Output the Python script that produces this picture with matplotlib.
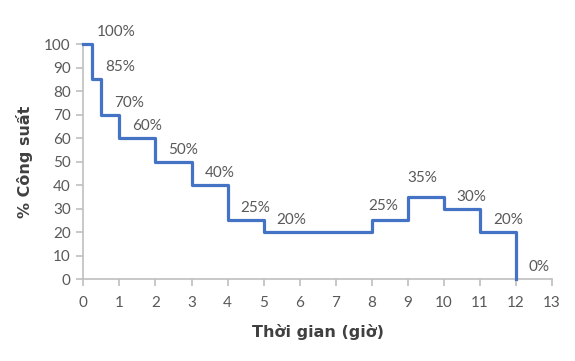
import matplotlib.pyplot as plt

# thoi diem bat dau moi buoc (gio) va % cong suat
hours = [0, 0.25, 0.5, 1, 2, 3, 4, 5, 8, 9, 10, 11, 12]
power = [100, 85, 70, 60, 50, 40, 25, 20, 25, 35, 30, 20, 0]
labels = ['100%', '85%', '70%', '60%', '50%', '40%', '25%', '20%',
          '25%', '35%', '30%', '20%', '0%']

x_ticks = list(range(0, 14))
y_ticks = list(range(0, 101, 10))

BLUE = '#4472C4'
GRAY = '#595959'
AXIS = '#BFBFBF'


def main():
    plt.rcParams['font.family'] = ['Lato', 'DejaVu Sans']
    fig = plt.figure(figsize=(5.75, 3.61), dpi=100)
    ax = fig.add_axes([0.145, 0.227, 0.815, 0.651])

    ax.step(hours, power, where='post', color=BLUE, lw=2.3, clip_on=False, zorder=3)

    for i in range(len(hours)):
        # hai nhan o gio 8 va 9 duoc dat lech rieng
        if i == 8:
            off, ha = (11, 14), 'center'
        elif i == 9:
            off, ha = (14, 19), 'center'
        else:
            off, ha = (13, 12), 'left'
        ax.annotate(labels[i], (hours[i], power[i]), xytext=off,
                    textcoords='offset pixels', ha=ha, va='center',
                    fontsize=11, color=GRAY, annotation_clip=False)

    ax.set_xlim(0, 13)
    ax.set_ylim(0, 100)
    ax.set_xticks(x_ticks)
    ax.set_yticks(y_ticks)

    for s in ['top', 'right']:
        ax.spines[s].set_visible(False)
    for s in ['left', 'bottom']:
        ax.spines[s].set_color(AXIS)
        ax.spines[s].set_linewidth(1.2)

    ax.tick_params(axis='x', colors=AXIS, labelcolor=GRAY, labelsize=11,
                   length=5, width=1.2, pad=7)
    ax.tick_params(axis='y', colors=AXIS, labelcolor=GRAY, labelsize=11,
                   length=5, width=1.2, pad=4)

    ax.set_xlabel('Thời gian (giờ)', fontsize=11.5, fontweight='bold',
                  color='#404040', labelpad=10, family='DejaVu Sans')
    ax.set_ylabel('% Công suất', fontsize=11.5, fontweight='bold',
                  color='#404040', labelpad=8, family='DejaVu Sans')

    fig.savefig('out.png', dpi=100)


if __name__ == '__main__':
    main()
